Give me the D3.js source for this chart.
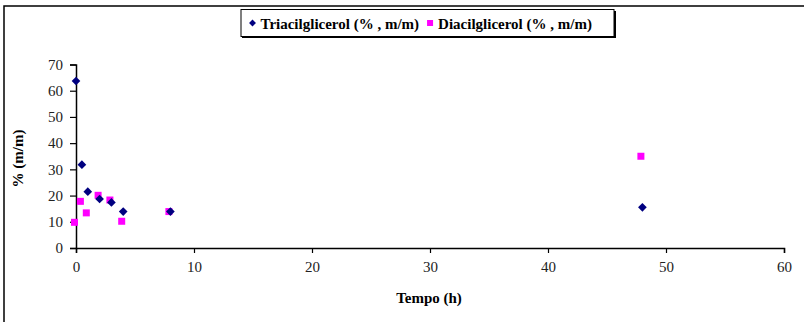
<!DOCTYPE html>
<html>
<head>
<meta charset="utf-8">
<script src="https://cdn.jsdelivr.net/npm/d3@7"></script>
<style>
  html, body { margin: 0; padding: 0; background: #fff; }
  svg { display: block; }
</style>
</head>
<body>
<div id="chart"></div>
<script>
// Reaction time (h) and composition of the product (% m/m)
const tempoTri = [0, 0.5, 1, 2, 3, 4, 8, 48];
const triacilglicerol = [63.7, 31.8, 21.5, 18.7, 17.4, 13.9, 13.9, 15.5];
const tempoDi = [0, 0.5, 1, 2, 3, 4, 8, 48];
const diacilglicerol = [9.8, 17.8, 13.4, 20.1, 18.3, 10.2, 13.9, 35];
const xTicks = [0, 10, 20, 30, 40, 50, 60];
const yTicks = [0, 10, 20, 30, 40, 50, 60, 70];
const seriesNames = ["Triacilglicerol (% , m/m)", "Diacilglicerol (% , m/m)"];

const FONT = "Liberation Serif";
const W = 804, H = 322;
const svg = d3.select("#chart").append("svg").attr("width", W).attr("height", H);

// chart area frame (runs past the right and bottom edges)
svg.append("rect").attr("x", 4).attr("y", 6).attr("width", 806).attr("height", 330)
  .attr("fill", "#fff").attr("stroke", "#000").attr("stroke-width", 1.5);

const x = d3.scaleLinear().domain([0, 60]).range([76, 784]);
const y = d3.scaleLinear().domain([0, 70]).range([248, 64.5]);

const xAxis = svg.append("g").attr("transform", `translate(0,${y(0)})`)
  .call(d3.axisBottom(x).tickValues(xTicks).tickSize(5).tickPadding(8).tickFormat(d3.format("d")));
const yAxis = svg.append("g").attr("transform", `translate(${x(0)},0)`)
  .call(d3.axisLeft(y).tickValues(yTicks).tickSize(6).tickPadding(7).tickFormat(d3.format("d")));
[xAxis, yAxis].forEach(g => {
  g.attr("font-family", null);
  g.selectAll("text").style("font-size", "15px").style("font-family", FONT).attr("fill", "#222");
  g.selectAll("line").attr("stroke", "#000").attr("stroke-width", 1.2);
  g.select(".domain").attr("stroke", "#000").attr("stroke-width", 1.5);
});

// axis titles
svg.append("text").attr("x", 429).attr("y", 303).attr("text-anchor", "middle")
  .style("font-family", FONT).style("font-size", "15px").style("font-weight", "bold").text("Tempo (h)");
svg.append("text").attr("transform", `translate(23,158.5) rotate(-90)`)
  .attr("text-anchor", "middle")
  .style("font-family", FONT).style("font-size", "15px").style("font-weight", "bold").text("% (m/m)");

const diamond = d3.symbol().type(d3.symbolDiamond2).size(48);

// Diacilglicerol squares
svg.append("g").selectAll("rect").data(tempoDi.map((t, i) => [t, diacilglicerol[i]]))
  .join("rect")
  .attr("x", d => x(d[0]) - 5).attr("y", d => y(d[1]) - 3.5)
  .attr("width", 7).attr("height", 7).attr("fill", "#ff00ff");

// Triacilglicerol diamonds
svg.append("g").selectAll("path").data(tempoTri.map((t, i) => [t, triacilglicerol[i]]))
  .join("path")
  .attr("d", diamond)
  .attr("transform", d => `translate(${x(d[0])},${y(d[1])})`)
  .attr("fill", "#000080");

// legend
const lg = svg.append("g");
lg.append("rect").attr("x", 242).attr("y", 11).attr("width", 374).attr("height", 27)
  .attr("fill", "#000");
lg.append("rect").attr("x", 241).attr("y", 9.5).attr("width", 373).attr("height", 27)
  .attr("fill", "#fff").attr("stroke", "#000").attr("stroke-width", 1);
lg.append("path").attr("d", d3.symbol().type(d3.symbolDiamond2).size(30))
  .attr("transform", "translate(252.5,23)").attr("fill", "#000080");
const t1 = lg.append("text").attr("x", 260.5).attr("y", 28.5)
  .style("font-family", FONT).style("font-size", "15px").style("font-weight", "bold").text(seriesNames[0]);
const w1 = t1.node().getComputedTextLength();
lg.append("rect").attr("x", 260.5 + w1 + 8).attr("y", 20).attr("width", 6).attr("height", 6)
  .attr("fill", "#ff00ff");
lg.append("text").attr("x", 260.5 + w1 + 19).attr("y", 28.5)
  .style("font-family", FONT).style("font-size", "15px").style("font-weight", "bold").text(seriesNames[1]);
</script>
</body>
</html>
